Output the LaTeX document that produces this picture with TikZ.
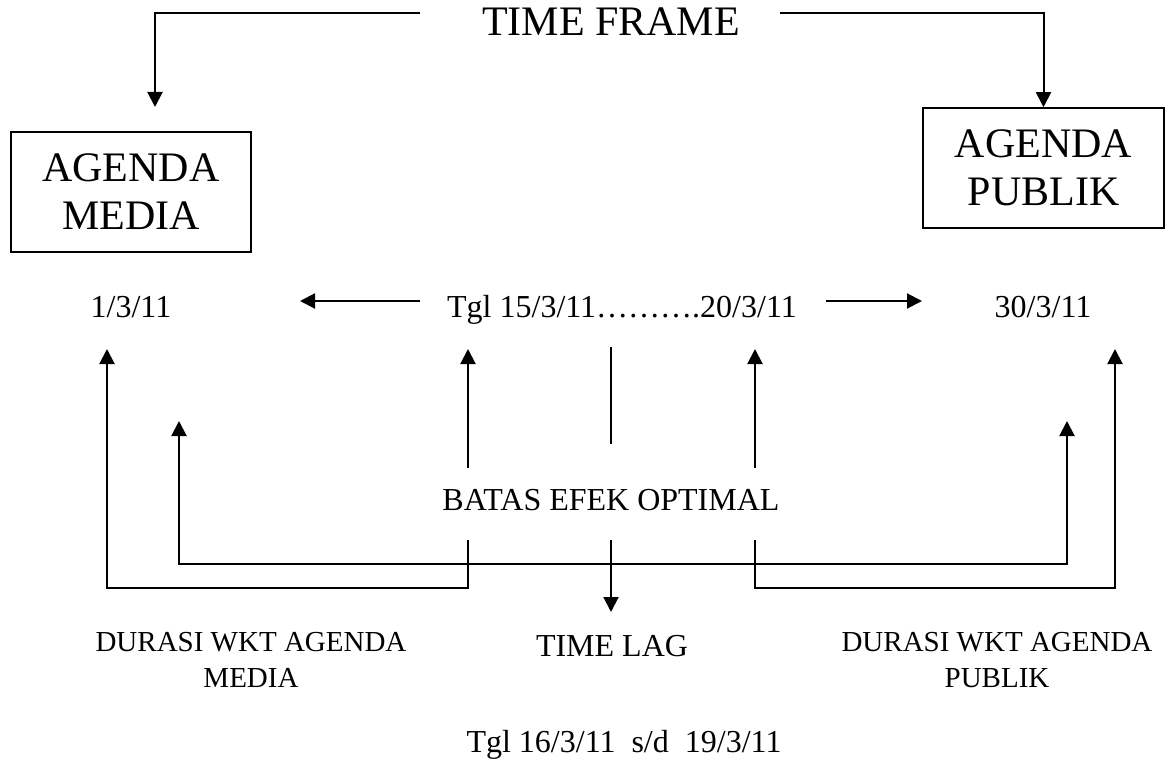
\documentclass[tikz,border=0pt]{standalone}
\usepackage{fontspec}
\setmainfont{Liberation Serif}
\usetikzlibrary{arrows.meta}
\begin{document}
\begin{tikzpicture}[x=1pt,y=-1pt,
  conn/.style={line width=2pt},
  thin/.style={line width=1.6pt},
  arr/.style={conn,-{Triangle[length=15pt,width=15pt]}},
  big/.style={font=\fontsize{42}{48}\selectfont},
  txt/.style={font=\fontsize{32}{36}\selectfont, inner sep=0pt, anchor=base},
  small/.style={font=\fontsize{29}{36}\selectfont, inner sep=0pt, align=center},
  box/.style={draw, line width=1.6pt, big, align=center, minimum width=240pt, minimum height=120pt, inner sep=0pt}]
\useasboundingbox (0,0) rectangle (1168,760);

% title and boxes
\node[big, inner sep=0pt, anchor=base] (tf) at (611,36) {TIME FRAME};
\node[box] (am) at (131,192) {AGENDA\\MEDIA};
\node[box, minimum width=241pt] (ap) at (1043.5,168) {AGENDA\\PUBLIK};

% date row
\node[txt] (d1) at (131,317) {1/3/11};
\node[txt] (dmid) at (622,317) {Tgl 15/3/11……….20/3/11};
\node[txt] (d30) at (1043,317) {30/3/11};

% middle texts
\node[txt] (batas) at (611,510) {BATAS EFEK OPTIMAL};
\node[small] (durm) at (251,660) {DURASI WKT AGENDA\\MEDIA};
\node[small] (durp) at (997,660) {DURASI WKT AGENDA\\PUBLIK};
\node[txt] (lag) at (612,656) {TIME LAG};
\node[txt] (tgl) at (624,752) {Tgl 16/3/11\ \ s/d\ \ 19/3/11};

% coordinates
\coordinate (tfL) at (420,13);
\coordinate (tfR) at (780,13);
\coordinate (amIn) at (155,107);
\coordinate (laS) at (420,301);
\coordinate (laE) at (300,301);
\coordinate (raS) at (826,301);
\coordinate (raE) at (922,301);

\coordinate (a1) at (107,349);
\coordinate (a2) at (179,421);
\coordinate (a3t) at (468,349);
\coordinate (a3u) at (468,468);
\coordinate (a3l) at (468,540);
\coordinate (a4t) at (755,349);
\coordinate (a4u) at (755,468);
\coordinate (a4l) at (755,540);
\coordinate (a5) at (1067,421);
\coordinate (a6) at (1115,349);
\coordinate (mtop) at (611,347);
\coordinate (mbot) at (611,444);
\coordinate (mlow) at (611,540);
\coordinate (mtip) at (611,612);

% top connectors
\draw[arr] (tfL) -| (amIn);
\draw[arr] (tfR) -| (ap.north);

% horizontal arrows
\draw[arr] (laS) -- (laE);
\draw[arr] (raS) -- (raE);

% upper verticals
\draw[arr] (a3u) -- (a3t);
\draw[arr] (a4u) -- (a4t);
\draw[thin] (mtop) -- (mbot);

% lower connectors
\draw[arr] (a3l) |- (107,588) -- (a1);
\draw[arr] (a4l) |- (1115,588) -- (a6);
\draw[conn,{Triangle[length=15pt,width=15pt]}-{Triangle[length=15pt,width=15pt]}] (a2) |- (1067,564) -- (a5);
\draw[arr] (mlow) -- (mtip);
\end{tikzpicture}
\end{document}
